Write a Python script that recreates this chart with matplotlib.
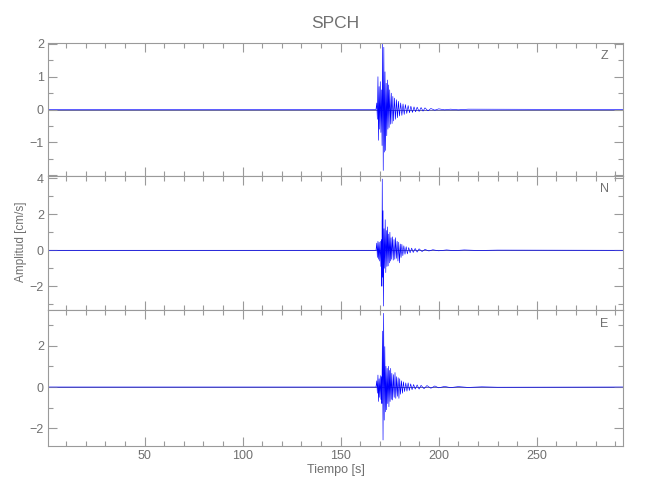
import matplotlib
matplotlib.use("Agg")
import matplotlib.pyplot as plt
from matplotlib.ticker import MultipleLocator

plt.rcParams['font.family'] = ['Liberation Sans', 'DejaVu Sans']

# componente Z
t_z = [1, 168.0, 168.4, 168.7, 169.0, 169.3, 169.6, 169.9, 170.2, 170.5,
       170.8, 171.1, 171.4, 171.7, 172.0, 172.3, 172.6, 172.9, 173.2, 173.5,
       173.8, 174.1, 174.4, 174.7, 175.0, 175.4, 175.8, 176.2, 176.6, 177.0,
       177.5, 178.0, 178.5, 179.0, 179.5, 180.0, 180.6, 181.2, 181.8, 182.4,
       183.0, 183.7, 184.4, 185.1, 185.8, 186.6, 187.4, 188.2, 189.0, 190.0,
       191.0, 192.0, 193.0, 194.5, 196.0, 198.0, 200.0, 203.0, 206.0, 210.0,
       215.0, 294.0]
a_z = [0, 0, 0.2, -0.3, 1.0, -0.94, 0.7, -0.6, 0.85, -0.7,
       0.6, -1.1, 2.0, -1.86, 1.9, -1.3, 1.15, -1.25, 0.8, -0.8,
       0.9, -0.6, 0.75, -0.55, 0.6, -0.45, 0.5, -0.43, 0.4, -0.35,
       0.35, -0.3, 0.3, -0.25, 0.25, -0.2, 0.2, -0.18, 0.17, -0.15,
       0.15, -0.12, 0.12, -0.1, 0.1, -0.09, 0.08, -0.07, 0.07, -0.06,
       0.06, -0.05, 0.05, -0.04, 0.03, -0.02, 0.02, -0.01, 0.01, -0.01,
       0.01, 0.0]

# componente N
t_n = [1, 168.0, 168.4, 168.7, 169.0, 169.3, 169.6, 169.9, 170.2, 170.5,
       170.8, 171.0, 171.2, 171.4, 171.6, 171.8, 172.1, 172.4, 172.7, 173.0,
       173.3, 173.6, 173.9, 174.2, 174.5, 174.8, 175.1, 175.4, 175.7, 176.0,
       176.4, 176.8, 177.2, 177.6, 178.0, 178.4, 178.8, 179.2, 179.6, 180.0,
       180.4, 180.8, 181.2, 181.7, 182.2, 182.8, 183.4, 184.0, 184.7, 185.4,
       186.2, 187.0, 188.0, 189.0, 190.0, 191.5, 193.0, 195.0, 197.0, 200.0,
       204.0, 208.0, 213.0, 220.0, 230.0, 294.0]
a_n = [0, 0, 0.4, -0.4, 0.5, -0.5, 0.45, -0.6, 0.5, -0.9,
       0.6, -2.0, 3.96, -1.5, 2.2, -3.1, 1.2, -1.0, 1.7, -1.24,
       1.1, -0.9, 1.3, -0.87, 0.9, -0.7, 1.0, -0.6, 0.7, -0.5,
       0.75, -0.55, 0.6, -0.5, 0.7, -0.45, 0.5, -0.6, 0.45, -0.7,
       0.35, -0.4, 0.33, -0.3, 0.25, -0.22, 0.2, -0.2, 0.15, -0.14,
       0.12, -0.12, 0.1, -0.1, 0.08, -0.07, 0.05, -0.04, 0.03, -0.03,
       0.02, -0.02, 0.02, -0.01, 0.01, 0.0]

# componente E
t_e = [1, 168.0, 168.4, 168.7, 169.0, 169.3, 169.6, 169.9, 170.2, 170.5,
       170.8, 171.0, 171.3, 171.6, 171.9, 172.2, 172.5, 172.8, 173.1, 173.4,
       173.7, 174.0, 174.3, 174.6, 174.9, 175.2, 175.5, 175.8, 176.1, 176.5,
       176.9, 177.3, 177.7, 178.1, 178.5, 178.9, 179.3, 179.7, 180.1, 180.5,
       181.0, 181.5, 182.0, 182.6, 183.2, 183.8, 184.4, 185.0, 185.7, 186.4,
       187.2, 188.0, 189.0, 190.0, 191.0, 192.5, 194.0, 196.0, 198.0, 200.0,
       203.0, 206.0, 210.0, 215.0, 222.0, 230.0, 294.0]
a_e = [0, 0, 0.3, -0.3, 0.58, -0.7, 0.4, -0.5, 0.55, -0.6,
       0.5, -0.8, 2.7, -2.56, 3.56, -1.6, 1.95, -1.2, 1.0, -1.1,
       0.9, -0.8, 1.0, -0.95, 0.8, -0.7, 0.9, -0.6, 0.66, -0.63,
       0.6, -0.5, 0.7, -0.55, 0.5, -0.45, 0.45, -0.55, 0.4, -0.35,
       0.3, -0.3, 0.25, -0.22, 0.2, -0.2, 0.2, -0.17, 0.15, -0.13,
       0.12, -0.1, 0.1, -0.1, 0.08, -0.08, 0.07, -0.06, 0.05, -0.04,
       0.03, -0.03, 0.02, -0.02, 0.01, -0.01, 0.0]

componentes = ["Z", "N", "E"]
ylims = [(-2.03, 2.03), (-3.32, 4.13), (-2.85, 3.72)]
yticks = [[-2, -1, 0, 1, 2], [-2, 0, 2, 4], [-2, 0, 2]]
yticklabels = [["", "\u22121", "0", "1", "2"], ["\u22122", "0", "2", "4"], ["\u22122", "0", "2"]]
yminor = [0.5, 1, 1]
xticks = [50, 100, 150, 200, 250]

gris_txt = "#707070"
gris_eje = "#9a9a9a"

fig = plt.figure(figsize=(6.5, 5), dpi=100)

# posiciones de los paneles en pixeles (arriba, abajo)
paneles = [(43, 176), (176, 310), (310, 446)]
datos = [(t_z, a_z), (t_n, a_n), (t_e, a_e)]

for i, (arriba, abajo) in enumerate(paneles):
    ax = fig.add_axes([48 / 650, 1 - abajo / 500, (623 - 48) / 650, (abajo - arriba) / 500])
    t, a = datos[i]
    ax.axhline(0, color="#30307a", lw=0.5, zorder=1)
    ax.plot(t, a, color="#0000ff", lw=0.45, zorder=2)
    ax.set_xlim(0.7, 294)
    ax.set_ylim(*ylims[i])
    ax.set_xticks(xticks)
    ax.xaxis.set_minor_locator(MultipleLocator(10))
    ax.set_yticks(yticks[i])
    ax.set_yticklabels(yticklabels[i])
    ax.yaxis.set_minor_locator(MultipleLocator(yminor[i]))
    ax.tick_params(which="both", direction="in", top=True, right=True,
                   color=gris_eje, width=0.8, labelcolor=gris_txt, labelsize=9, pad=3)
    ax.tick_params(which="major", length=6.8)
    ax.tick_params(which="minor", length=3.3)
    for s in ax.spines.values():
        s.set_color(gris_eje)
        s.set_linewidth(0.8)
    if i < 2:
        ax.set_xticklabels([])
    ax.text(0.975, 0.9, componentes[i], transform=ax.transAxes, ha="right", va="center",
            color=gris_txt, fontsize=9)

fig.text(335.5 / 650, 1 - 23 / 500, "SPCH", ha="center", va="center", color=gris_txt, fontsize=12.5)
fig.text(21 / 650, 1 - 242 / 500, "Amplitud [cm/s]", rotation=90, ha="center", va="center",
         color=gris_txt, fontsize=8.5)
fig.text(335.5 / 650, 1 - 470 / 500, "Tiempo [s]", ha="center", va="center", color=gris_txt, fontsize=9)

fig.savefig("out.png", dpi=100)
